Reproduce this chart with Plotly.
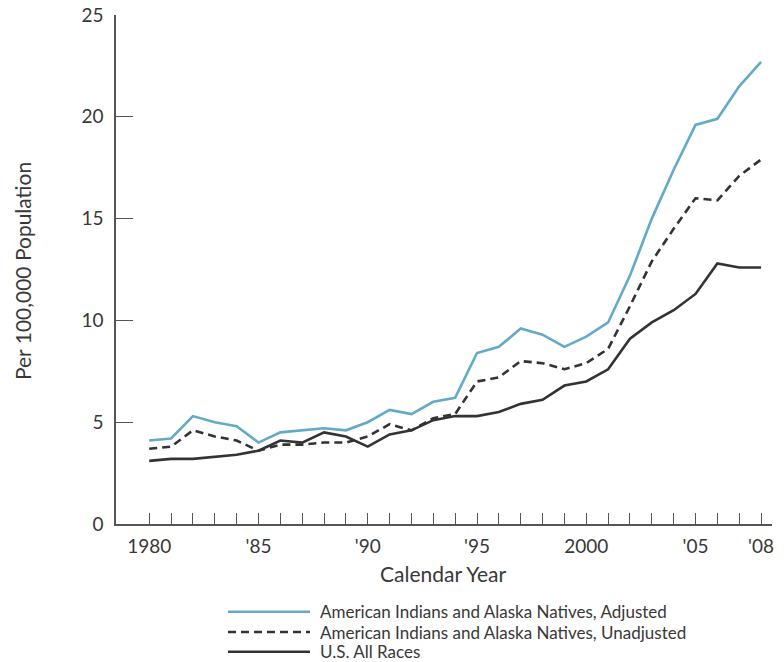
import plotly.graph_objects as go

years = list(range(1980, 2009))
adjusted = [4.1, 4.2, 5.3, 5.0, 4.8, 4.0, 4.5, 4.6, 4.7, 4.6,
            5.0, 5.6, 5.4, 6.0, 6.2, 8.4, 8.7, 9.6, 9.3, 8.7,
            9.2, 9.9, 12.2, 15.0, 17.4, 19.6, 19.9, 21.5, 22.7]
unadjusted = [3.7, 3.8, 4.6, 4.3, 4.1, 3.6, 3.9, 3.9, 4.0, 4.0,
              4.3, 4.9, 4.6, 5.2, 5.4, 7.0, 7.2, 8.0, 7.9, 7.6,
              7.9, 8.6, 10.7, 12.9, 14.5, 16.0, 15.9, 17.1, 17.9]
us_all = [3.1, 3.2, 3.2, 3.3, 3.4, 3.6, 4.1, 4.0, 4.5, 4.3,
          3.8, 4.4, 4.6, 5.1, 5.3, 5.3, 5.5, 5.9, 6.1, 6.8,
          7.0, 7.6, 9.1, 9.9, 10.5, 11.3, 12.8, 12.6, 12.6]
series_names = ["American Indians and Alaska Natives, Adjusted",
                "American Indians and Alaska Natives, Unadjusted",
                "U.S. All Races"]
x_tick_labels = {1980: "1980", 1985: "'85", 1990: "'90", 1995: "'95",
                 2000: "2000", 2005: "'05", 2008: "'08"}
y_tick_vals = [0, 5, 10, 15, 20, 25]
x_title = "Calendar Year"
y_title = "Per 100,000 Population"

FONT = "Lato"
TXT = "#383838"
BLUE = "#63aac6"
DARK = "#333333"
AX = "#555555"

styles = [dict(color=BLUE, width=2.6, dash="solid"),
          dict(color=DARK, width=2.6, dash="8px,5px"),
          dict(color=DARK, width=2.6, dash="solid")]

fig = go.Figure()
for name, vals, st in zip(series_names, [adjusted, unadjusted, us_all], styles):
    fig.add_trace(go.Scatter(x=years, y=vals, mode="lines", name=name,
                             line=st, showlegend=False, hoverinfo="skip"))

fig.update_layout(
    width=784, height=662,
    margin=dict(l=116, r=12, t=15, b=138),
    paper_bgcolor="white", plot_bgcolor="white",
    font=dict(family=FONT, color=TXT, size=17),
    xaxis=dict(range=[1978.48, 2008.5], showgrid=False, zeroline=False,
               automargin=False,
               showline=True, linecolor=AX, linewidth=1.5,
               tickmode="array", tickvals=years,
               ticktext=[x_tick_labels.get(y, "") for y in years],
               ticks="inside", ticklen=11, tickwidth=1.3, tickcolor=AX,
               ticklabelstandoff=4,
               tickfont=dict(size=19, family=FONT, color=TXT)),
    yaxis=dict(range=[0, 25], showgrid=False, zeroline=False,
               automargin=False,
               showline=True, linecolor=AX, linewidth=1.5,
               tickmode="array", tickvals=y_tick_vals,
               ticks="inside", ticklen=17, tickwidth=1.3, tickcolor=AX,
               ticklabelstandoff=7,
               tickfont=dict(size=19, family=FONT, color=TXT)),
)

fig.add_annotation(xref="paper", yref="paper", x=0.4985, y=-0.0963,
                   text=x_title, showarrow=False, xanchor="center", yanchor="middle",
                   font=dict(size=21, family=FONT, color=TXT))
fig.add_annotation(xref="paper", yref="paper", x=-0.1433, y=0.497,
                   text=y_title, showarrow=False, textangle=-90,
                   xanchor="center", yanchor="middle",
                   font=dict(size=21, family=FONT, color=TXT))

# custom legend
leg_y = [-0.1723, -0.2122, -0.2509]
for name, st, ly in zip(series_names, styles, leg_y):
    fig.add_shape(type="line", xref="paper", yref="paper",
                  x0=0.1707, x1=0.2957, y0=ly, y1=ly,
                  line=dict(color=st["color"], width=2.6, dash=st["dash"]))
    fig.add_annotation(xref="paper", yref="paper", x=0.3079, y=ly,
                       text=name, showarrow=False, xanchor="left", yanchor="middle",
                       font=dict(size=17, family=FONT, color=TXT))

fig.write_html("out.html", config={"displayModeBar": False},
               post_script="document.body.style.margin='0';document.body.style.overflow='hidden';")
